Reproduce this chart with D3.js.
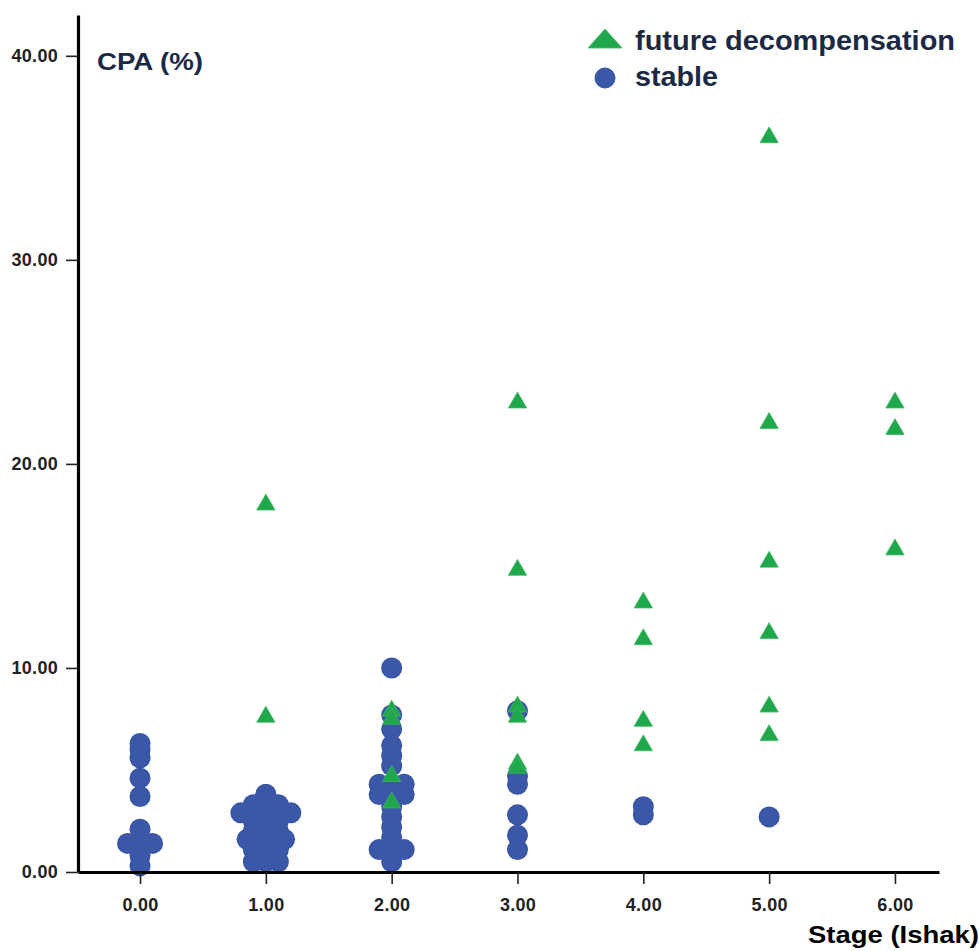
<!DOCTYPE html>
<html>
<head>
<meta charset="utf-8">
<script src="https://cdn.jsdelivr.net/npm/d3@7"></script>
<style>
  html, body { margin: 0; padding: 0; background: #fff; }
  svg { display: block; }
</style>
</head>
<body>
<svg id="chart" width="979" height="951"></svg>
<script>
// ---- data ----
const stages = [0, 1, 2, 3, 4, 5, 6];
const xTickValues = [0, 1, 2, 3, 4, 5, 6];
const yTickValues = [0, 10, 20, 30, 40];

// stable patients (blue circles), CPA % per Ishak stage
const stable0 = [6.3, 6.0, 5.6, 4.6, 3.7, 2.1, 1.4, 1.4, 1.4, 0.8, 0.3];
const stable1 = [3.8, 3.6, 3.8, 3.3, 3.3, 3.3, 2.9, 2.9, 2.9, 2.9, 2.9, 2.5, 2.5, 2.5,
                 2.0, 2.0, 2.0, 1.6, 1.6, 1.6, 1.6, 1.1, 1.1, 1.1, 0.5, 0.5, 0.5];
const stable2 = [10.0, 7.7, 7.0, 6.2, 5.7, 5.2, 4.3, 4.3, 4.3, 3.8, 3.8, 3.8, 3.2, 2.7, 2.2, 1.7,
                 1.1, 1.1, 1.1, 0.5];
const stable3 = [7.9, 4.7, 4.3, 2.8, 1.8, 1.1];
const stable4 = [3.2, 2.8];
const stable5 = [2.7];
const stable6 = [];

// future decompensation (green triangles)
const decomp0 = [];
const decomp1 = [18.0, 7.6];
const decomp2 = [7.9, 7.5, 4.7, 3.4];
const decomp3 = [23.0, 14.8, 8.1, 7.6, 5.3, 5.1];
const decomp4 = [13.2, 11.4, 7.4, 6.2];
const decomp5 = [36.0, 22.0, 15.2, 11.7, 8.1, 6.7];
const decomp6 = [23.0, 21.7, 15.8];

const stableByStage = [stable0, stable1, stable2, stable3, stable4, stable5, stable6];
const decompByStage = [decomp0, decomp1, decomp2, decomp3, decomp4, decomp5, decomp6];

const legendLabels = ["future decompensation", "stable"];

// ---- layout ----
const svg = d3.select("#chart");
const x = d3.scaleLinear().domain([-0.493, 6.35]).range([78, 939]);
const y = d3.scaleLinear().domain([0, 42]).range([872, 15]);

const blue = "#3b58a8", blueEdge = "#3552a2";
const green = "#1fa84b", greenEdge = "#3fb862";
const navy = "#1b2947";

// dot stacking: consecutive near-equal values spread side by side
const spacing = 12.5;
function stack(values, stage) {
  const out = [];
  let i = 0;
  while (i < values.length) {
    let j = i;
    while (j + 1 < values.length && Math.abs(values[j + 1] - values[i]) < 0.15) j++;
    const n = j - i + 1;
    for (let k = 0; k < n; k++) {
      out.push({ stage, value: values[i + k], dx: (k - (n - 1) / 2) * spacing });
    }
    i = j + 1;
  }
  return out;
}
const stablePts = stages.flatMap(s => stack(stableByStage[s], s));
const decompPts = stages.flatMap(s => decompByStage[s].map(v => ({ stage: s, value: v })));

// circles: outline layer then fill layer so overlapping dots blend
const gc = svg.append("g");
gc.selectAll("circle.edge").data(stablePts).join("circle").attr("class", "edge")
  .attr("cx", d => x(d.stage) + d.dx)
  .attr("cy", d => y(d.value))
  .attr("r", 10.5)
  .attr("fill", blueEdge);
gc.selectAll("circle.fill").data(stablePts).join("circle").attr("class", "fill")
  .attr("cx", d => x(d.stage) + d.dx)
  .attr("cy", d => y(d.value))
  .attr("r", 9.7)
  .attr("fill", blue);

// triangles
const tri = d3.symbol().type(d3.symbolTriangle).size(145);
svg.append("g").selectAll("path").data(decompPts).join("path")
  .attr("d", tri)
  .attr("transform", d => `translate(${x(d.stage)},${y(d.value)})`)
  .attr("fill", green)
  .attr("stroke", greenEdge)
  .attr("stroke-width", 0.8);

// axes
const yAxis = d3.axisLeft(y).tickValues(yTickValues).tickFormat(d3.format(".2f"))
  .tickSize(12).tickSizeOuter(0).tickPadding(8);
const xAxis = d3.axisBottom(x).tickValues(xTickValues).tickFormat(d3.format(".2f"))
  .tickSize(12).tickSizeOuter(0).tickPadding(8);

const gy = svg.append("g").attr("transform", "translate(78,0)").call(yAxis);
const gx = svg.append("g").attr("transform", "translate(0,872)").call(xAxis);

[gy, gx].forEach(g => {
  g.select(".domain").attr("stroke", "#000").attr("stroke-width", 3.2);
  g.selectAll(".tick line").attr("stroke", "#222").attr("stroke-width", 1.6);
  g.selectAll(".tick text")
    .attr("fill", "#222")
    .style("font-family", "'Liberation Sans', Arial, sans-serif")
    .style("font-weight", "bold")
    .style("font-size", "18px")
    .style("letter-spacing", "0.3px");
});
gy.selectAll(".tick text").attr("x", -20);
gx.selectAll(".tick text").attr("dy", "1.05em");

// axis titles
svg.append("text")
  .attr("x", 97).attr("y", 70)
  .attr("fill", navy)
  .attr("textLength", 106).attr("lengthAdjust", "spacingAndGlyphs")
  .style("font-family", "'Liberation Sans', Arial, sans-serif")
  .style("font-weight", "bold").style("font-size", "24px")
  .text("CPA (%)");

svg.append("text")
  .attr("x", 808).attr("y", 943)
  .attr("fill", "#000")
  .attr("textLength", 171).attr("lengthAdjust", "spacingAndGlyphs")
  .style("font-family", "'Liberation Sans', Arial, sans-serif")
  .style("font-weight", "bold").style("font-size", "23px")
  .text("Stage (Ishak)");

// legend
const lg = svg.append("g");
lg.append("path")
  .attr("d", d3.line()([[588, 48], [605, 29], [622, 48]]) + "Z")
  .attr("fill", green).attr("stroke", greenEdge).attr("stroke-width", 0.8);
lg.append("circle").attr("cx", 605).attr("cy", 78).attr("r", 10)
  .attr("fill", blue).attr("stroke", blueEdge);
const legendWidths = [320, 83];
lg.selectAll("text").data(legendLabels).join("text")
  .attr("x", 635).attr("y", (d, i) => 50 + i * 36)
  .attr("fill", navy)
  .attr("textLength", (d, i) => legendWidths[i]).attr("lengthAdjust", "spacingAndGlyphs")
  .style("font-family", "'Liberation Sans', Arial, sans-serif")
  .style("font-weight", "bold").style("font-size", "27px")
  .text(d => d);
</script>
</body>
</html>
